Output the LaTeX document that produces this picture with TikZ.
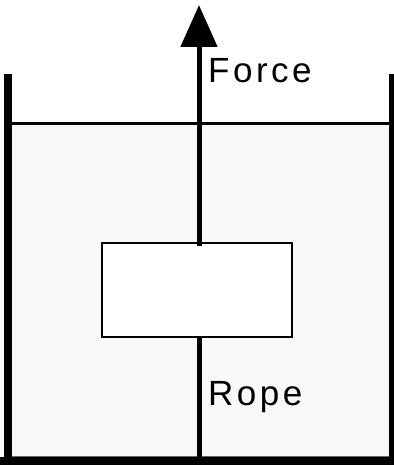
\documentclass[tikz,border=0pt]{standalone}
\usepackage{fontspec}
\setmainfont{Liberation Sans}[LetterSpace=10]
\usetikzlibrary{arrows.meta}
\definecolor{water}{HTML}{F8F8F8}
\begin{document}
\begin{tikzpicture}[x=1pt,y=-1pt,
  wall/.style={line width=8pt,line cap=butt},
  rope/.style={line width=5pt},
  lbl/.style={anchor=base west,inner sep=0pt,font=\fontsize{35}{40}\selectfont}]
\useasboundingbox (0,0) rectangle (393,465);
% water
\fill[water] (12,123.5) rectangle (389,457);
\draw[black!60,line width=1pt] (12,456) -- (389,456);
\draw[line width=2.2pt] (12,123.5) -- (389,123.5);
% container
\draw[wall] (8,74) -- (8,465);
\draw[wall] (393,74) -- (393,465);
\draw[wall] (0,461) -- (393,461);
% block
\node[draw,line width=2pt,fill=white,minimum width=190pt,minimum height=94pt,inner sep=0pt] (box) at (196.5,290) {};
\coordinate (tip) at (199,5);
\coordinate (bot) at (199,461);
\draw[rope,-{Triangle[width=36pt,length=42pt]}] ([xshift=2.5pt,yshift=-4pt]box.north) -- (tip);
\draw[rope] ([xshift=2.5pt]box.south) -- (bot);
\node[lbl] (force) at (208,83) {Force};
\node[lbl] (rope) at (208,405) {Rope};
\end{tikzpicture}
\end{document}
